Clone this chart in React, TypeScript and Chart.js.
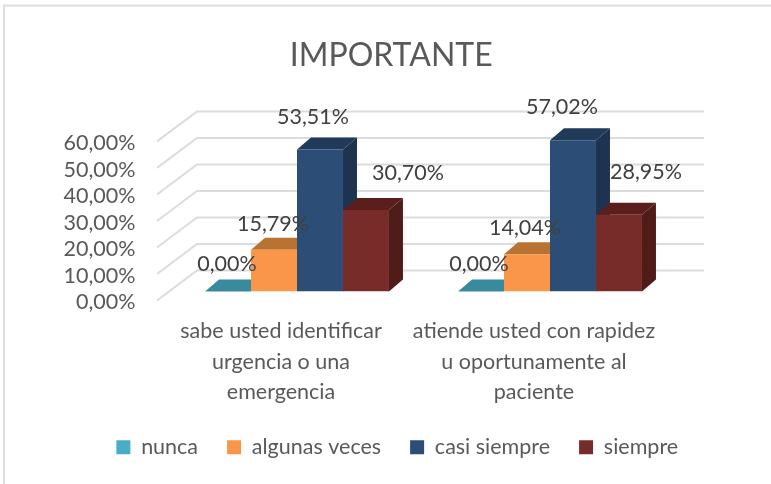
import React, { useEffect, useRef } from "react";
import { Chart, registerables } from "chart.js";

Chart.register(...registerables);

const titleText = "IMPORTANTE";
const categories = [
  ["sabe usted identificar", "urgencia o una", "emergencia"],
  ["atiende usted con rapidez", "u oportunamente al", "paciente"],
];
const seriesNames = ["nunca", "algunas veces", "casi siempre", "siempre"];
const nunca = [0.0, 0.0];
const algunasVeces = [15.79, 14.04];
const casiSiempre = [53.51, 57.02];
const siempre = [30.7, 28.95];

const FONT = "Lato, 'Open Sans', sans-serif";
const TEXT = "#595959";
const frontColors = ["#4bacc6", "#f9964a", "#2c4d75", "#772c2a"];
const topColors = ["#3a8a9e", "#b87333", "#203a5a", "#5a1f1c"];
const sideColors = ["#2f7386", "#a0632a", "#1e3350", "#4f1c19"];

// label nudges relative to the top centre of each bar [dx, dy]
const labelNudge = [
  [[-1, -27], [-1, -26], [-7, -33], [42, -37]],
  [[-2, -27], [-2, -26], [-11, -33], [27, -43]],
];

const DEPTH_X = 14;
const DEPTH_Y = 12;

const poly = (ctx: CanvasRenderingContext2D, pts: number[][], fill: string) => {
  ctx.fillStyle = fill;
  ctx.beginPath();
  pts.forEach(([x, y], i) => (i ? ctx.lineTo(x, y) : ctx.moveTo(x, y)));
  ctx.closePath();
  ctx.fill();
};

const backdrop3d = {
  id: "backdrop3d",
  afterLayout(chart: any) {
    chart.legend.left += 59;
    chart.legend.right += 59;
    chart.titleBlock.left += 53;
    chart.titleBlock.right += 53;
  },
  beforeDraw(chart: any) {
    const { ctx, width } = chart;
    ctx.save();
    ctx.strokeStyle = "#dedede";
    ctx.lineWidth = 2;
    ctx.beginPath();
    ctx.moveTo(4, 484);
    ctx.lineTo(4, 5.5);
    ctx.lineTo(width, 5.5);
    ctx.stroke();
    ctx.restore();
  },
  beforeDatasetsDraw(chart: any) {
    const { ctx, scales } = chart;
    const y = scales.y;
    ctx.save();
    ctx.strokeStyle = "#dcdcdc";
    ctx.lineWidth = 2;
    y.ticks.forEach((t: any) => {
      const py = y.getPixelForValue(t.value);
      ctx.beginPath();
      ctx.moveTo(157, py + 9);
      ctx.lineTo(197, py - 21);
      ctx.lineTo(704, py - 21);
      ctx.stroke();
    });
    chart.data.datasets.forEach((_: any, di: number) => {
      chart.getDatasetMeta(di).data.forEach((bar: any) => {
        const half = bar.width / 2;
        const l = bar.x - half;
        const r = bar.x + half;
        const top = bar.y;
        const base = bar.base;
        poly(ctx, [[l, top], [l + DEPTH_X, top - DEPTH_Y], [r + DEPTH_X, top - DEPTH_Y], [r, top]], topColors[di]);
        if (base - top > 0) {
          poly(ctx, [[r, top], [r + DEPTH_X, top - DEPTH_Y], [r + DEPTH_X, base - DEPTH_Y], [r, base]], sideColors[di]);
        }
      });
    });
    ctx.restore();
  },
  afterDatasetsDraw(chart: any) {
    const { ctx } = chart;
    ctx.save();
    ctx.font = `21.5px ${FONT}`;
    ctx.fillStyle = "#404040";
    ctx.textAlign = "center";
    ctx.textBaseline = "middle";
    chart.data.datasets.forEach((ds: any, di: number) => {
      chart.getDatasetMeta(di).data.forEach((bar: any, i: number) => {
        const [dx, dy] = labelNudge[i][di];
        const text = ds.data[i].toFixed(2).replace(".", ",") + "%";
        ctx.fillText(text, bar.x + dx, bar.y + dy);
      });
    });
    ctx.restore();
  },
};

export default function App() {
  const ref = useRef<HTMLCanvasElement>(null);
  useEffect(() => {
    document.body.style.margin = "0";
    const series = [nunca, algunasVeces, casiSiempre, siempre];
    const chart = new Chart(ref.current as HTMLCanvasElement, {
      type: "bar",
      data: {
        labels: categories as any,
        datasets: series.map((data, i) => ({
          label: seriesNames[i],
          data,
          backgroundColor: frontColors[i],
          borderWidth: 0,
          barPercentage: 1,
          categoryPercentage: 0.727,
        })),
      },
      options: {
        responsive: false,
        animation: false,
        layout: { padding: { left: 0, right: 94.5, top: 0, bottom: 16 } },
        plugins: {
          title: {
            display: true,
            text: titleText,
            color: TEXT,
            font: { family: FONT, size: 32, weight: "normal" },
            padding: { top: 36, bottom: 58 },
          },
          legend: {
            position: "bottom",
            labels: {
              color: TEXT,
              font: { family: FONT, size: 21.5 },
              boxWidth: 14,
              boxHeight: 14,
              padding: 29,
            },
          },
          tooltip: { enabled: false },
        },
        scales: {
          x: {
            grid: { display: false, drawTicks: false },
            border: { display: false },
            afterFit: (s: any) => { s.height = 116; },
            ticks: {
              color: TEXT,
              font: { family: FONT, size: 21.5, lineHeight: 1.4 },
              maxRotation: 0,
              autoSkip: false,
              padding: 25,
              labelOffset: -16,
            },
          },
          y: {
            min: 0,
            max: 60,
            grid: { display: false, drawTicks: false },
            border: { display: false },
            afterFit: (s: any) => { s.width = 170.5; },
            ticks: {
              stepSize: 10,
              autoSkip: false,
              color: TEXT,
              font: { family: FONT, size: 21.5 },
              padding: 35,
              labelOffset: 11,
              callback: (v: any) => Number(v).toFixed(2).replace(".", ",") + "%",
            },
          },
        },
      },
      plugins: [backdrop3d],
    } as any);
    return () => chart.destroy();
  }, []);
  return <canvas ref={ref} width={771} height={484} style={{ display: "block" }} />;
}
